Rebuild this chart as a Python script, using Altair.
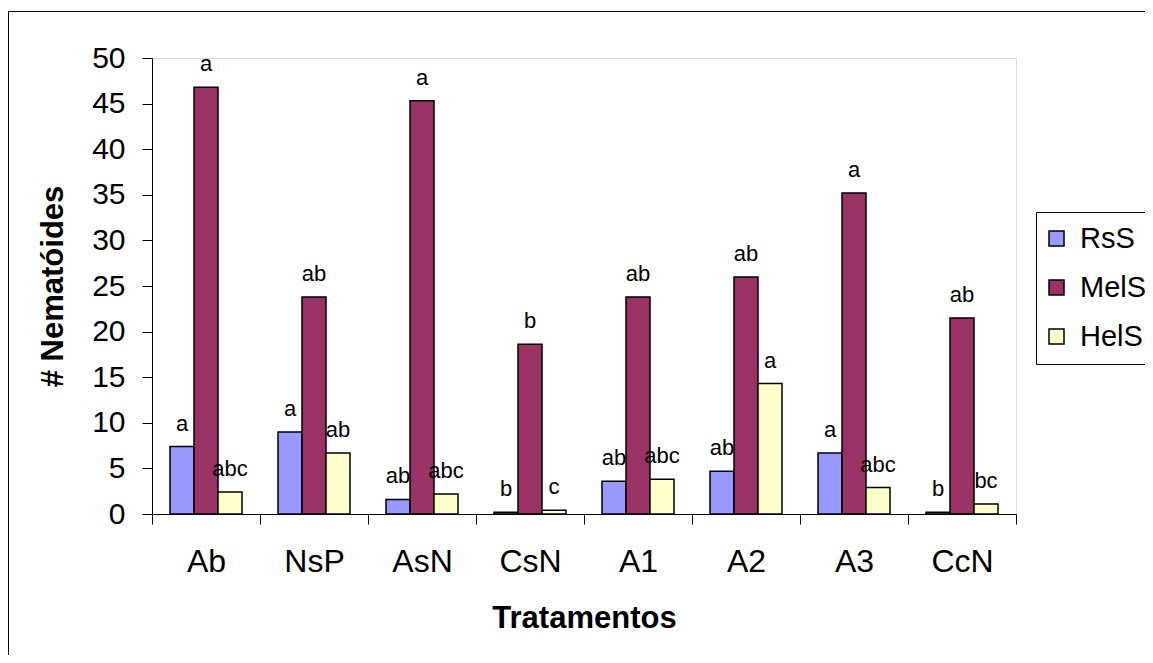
import altair as alt
import pandas as pd

categories = ["Ab", "NsP", "AsN", "CsN", "A1", "A2", "A3", "CcN"]
series = ["RsS", "MelS", "HelS"]
rss = [7.4, 9.0, 1.6, 0.2, 3.6, 4.7, 6.7, 0.2]
mels = [46.8, 23.8, 45.3, 18.6, 23.8, 26.0, 35.2, 21.5]
hels = [2.4, 6.7, 2.2, 0.4, 3.8, 14.3, 2.9, 1.1]
rss_letters = ["a", "a", "ab", "b", "ab", "ab", "a", "b"]
mels_letters = ["a", "ab", "a", "b", "ab", "ab", "a", "ab"]
hels_letters = ["abc", "ab", "abc", "c", "abc", "a", "abc", "bc"]
colors = ["#9999FF", "#993366", "#FFFFCC"]
y_ticks = list(range(0, 51, 5))

rows = []
for name, vals, lets in [("RsS", rss, rss_letters), ("MelS", mels, mels_letters), ("HelS", hels, hels_letters)]:
    for c, v, l in zip(categories, vals, lets):
        rows.append({"Tratamento": c, "Serie": name, "Valor": v, "Letra": l})
df = pd.DataFrame(rows)

FONT = "Liberation Sans"

x_enc = alt.X(
    "Tratamento:N",
    sort=categories,
    scale=alt.Scale(paddingInner=0, paddingOuter=0),
    axis=alt.Axis(
        title="Tratamentos",
        labelAngle=0,
        labelFontSize=32,
        labelFont=FONT,
        labelColor="black",
        labelPadding=22,
        titleFontSize=31,
        titleFont=FONT,
        titleFontWeight="bold",
        titleColor="black",
        titlePadding=26,
        tickBand="extent",
        tickSize=10,
        tickColor="black",
        domainColor="black",
        grid=False,
    ),
)
xoff = alt.XOffset(
    "Serie:N",
    sort=series,
    scale=alt.Scale(domain=series, paddingInner=0, paddingOuter=0.75),
)
y_enc = alt.Y(
    "Valor:Q",
    scale=alt.Scale(domain=[0, 50], nice=False),
    axis=alt.Axis(
        title="# Nematóides",
        values=y_ticks,
        labelFontSize=30,
        labelFont=FONT,
        labelColor="black",
        labelPadding=17,
        titleFontSize=31,
        titleFont=FONT,
        titleFontWeight="bold",
        titleColor="black",
        titlePadding=22,
        tickSize=10,
        tickColor="black",
        domainColor="black",
        grid=False,
    ),
)

base = alt.Chart(df)

bars = base.mark_bar(stroke="black", strokeWidth=1.5).encode(
    x=x_enc,
    xOffset=xoff,
    y=y_enc,
    color=alt.Color(
        "Serie:N",
        sort=series,
        scale=alt.Scale(domain=series, range=colors),
        legend=alt.Legend(
            title=None,
            orient="none",
            legendX=884,
            legendY=154,
            symbolType="square",
            symbolSize=225,
            symbolStrokeColor="black",
            symbolStrokeWidth=1.5,
            symbolOpacity=1,
            symbolOffset=-6,
            labelFontSize=29,
            labelFont=FONT,
            labelColor="black",
            labelOffset=9,
            rowPadding=19,
            padding=12,
            strokeColor="black",
            fillColor="white",
        ),
    ),
)

labels = base.mark_text(
    baseline="alphabetic", dy=-16, fontSize=22, font=FONT, color="black"
).encode(
    x=alt.X("Tratamento:N", sort=categories),
    xOffset=xoff,
    y=alt.Y("Valor:Q"),
    text="Letra:N",
)

frame_src = alt.Chart(pd.DataFrame({"k": [0]}))
frame_top = frame_src.mark_rect(color="black", strokeWidth=0).encode(
    x=alt.value(-144), x2=alt.value(2000), y=alt.value(-47), y2=alt.value(-46)
)
frame_left = frame_src.mark_rule(color="black", strokeWidth=1).encode(
    x=alt.value(-143.5), x2=alt.value(-143.5), y=alt.value(-46.5), y2=alt.value(2000)
)

chart = alt.layer(frame_top, frame_left, bars, labels).properties(
    width=864,
    height=456,
    autosize=alt.AutoSizeParams(type="none"),
    padding={"left": 144, "top": 50, "right": 129, "bottom": 141},
).configure_view(stroke=None).configure(background="white")

chart.save("out.html", embed_options={"renderer": "svg", "actions": False})
